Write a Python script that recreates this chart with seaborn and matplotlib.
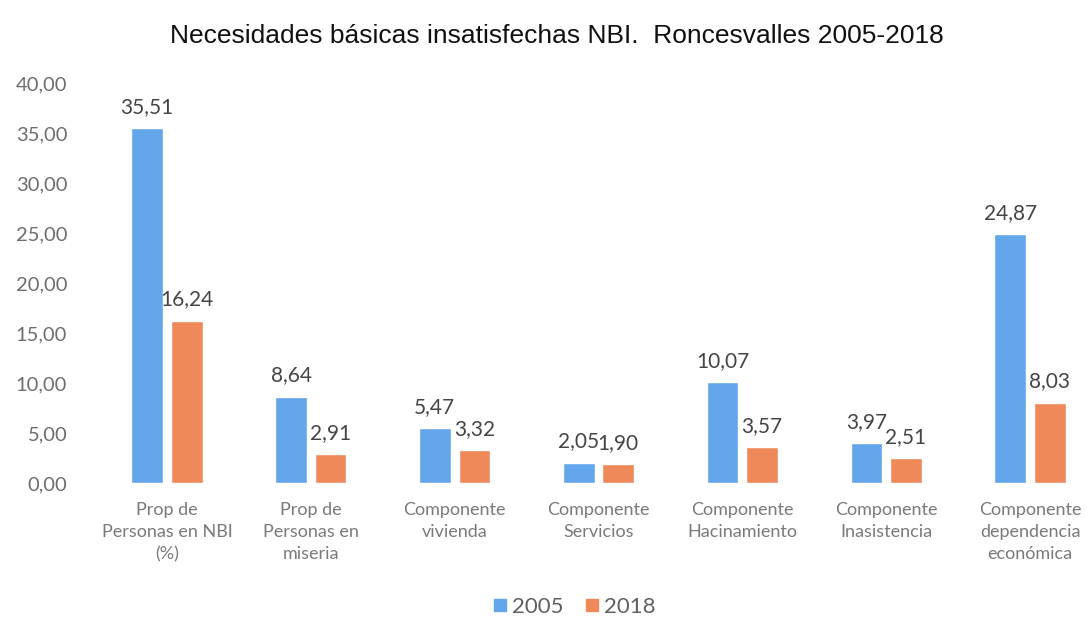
import numpy as np
import pandas as pd
import seaborn as sns
import matplotlib.pyplot as plt
from matplotlib.lines import Line2D

# -------------------------
# 1. Data
# -------------------------
categories = [
    "Prop de\nPersonas en NBI\n(%)",
    "Prop de\nPersonas en\nmiseria",
    "Componente\nvivienda",
    "Componente\nServicios",
    "Componente\nHacinamiento",
    "Componente\nInasistencia",
    "Componente\ndependencia\neconómica",
]
years = ["2005", "2018"]
values_2005 = [35.51, 8.64, 5.47, 2.05, 10.07, 3.97, 24.87]
values_2018 = [16.24, 2.91, 3.32, 1.90, 3.57, 2.51, 8.03]
y_ticks = [0, 5, 10, 15, 20, 25, 30, 35, 40]

df = pd.DataFrame({
    "Indicador": categories * 2,
    "Año": [years[0]] * len(categories) + [years[1]] * len(categories),
    "Valor": values_2005 + values_2018,
})

colors = ["#63A6EC", "#F0895A"]

def coma(v):
    return f"{v:.2f}".replace(".", ",")

# -------------------------
# 2. Plot
# -------------------------
sns.set_theme(style="white")
plt.rcParams['font.family'] = ['Lato', 'DejaVu Sans']

fig = plt.figure(figsize=(10.9, 6.19), dpi=100)
ax = fig.add_axes([95 / 1090, 136 / 619, 995 / 1090, 400 / 619])

sns.barplot(data=df, x="Indicador", y="Valor", hue="Año", palette=colors,
            saturation=1, width=0.55, gap=0.2, legend=False, ax=ax)

ax.set_xlim(-0.5, 6 + 60 / 144)
ax.set_ylim(0, 40)
ax.set_yticks(y_ticks)
ax.set_yticklabels([coma(v) for v in y_ticks])
ax.set_xlabel("")
ax.set_ylabel("")
sns.despine(ax=ax, left=True, bottom=True)
ax.tick_params(axis="y", length=0, pad=20, labelsize=14.5, labelcolor="#6E6E6E")
ax.tick_params(axis="x", length=0, pad=14, labelsize=13, labelcolor="#7A7A7A")
for lbl in ax.get_xticklabels():
    lbl.set_linespacing(1.45)

# value labels on top of bars
for cont in ax.containers:
    ax.bar_label(cont, labels=[coma(v) for v in cont.datavalues],
                 padding=8, fontsize=15, color="#454545")

# title
fig.text(557 / 1090, 1 - 36 / 619,
         "Necesidades básicas insatisfechas NBI.  Roncesvalles 2005-2018",
         ha="center", va="center", fontsize=19, color="#111111",
         family=["Liberation Sans", "DejaVu Sans"])

# legend
handles = [Line2D([], [], marker="s", linestyle="", markersize=9,
                  markerfacecolor=c, markeredgecolor=c) for c in colors]
fig.legend(handles, years, loc="center", bbox_to_anchor=(574 / 1090, 1 - 607 / 619),
           ncol=2, frameon=False, handlelength=0.7,
           handletextpad=0.2, columnspacing=0.9, labelcolor="#606060",
           prop={"size": 16})

fig.savefig("out.png", dpi=100, facecolor="white")
